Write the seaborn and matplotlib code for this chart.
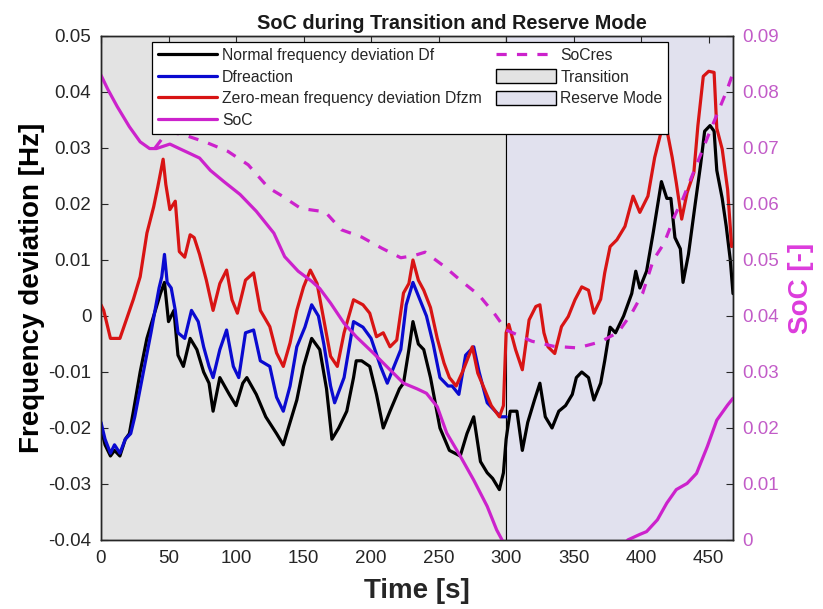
import matplotlib
matplotlib.use("Agg")
import matplotlib.pyplot as plt
from matplotlib.lines import Line2D
from matplotlib.patches import Patch
import pandas as pd
import seaborn as sns

# ---- data ---------------------------------------------------------------
T_DF = [0, 3, 7, 10, 14, 18, 21, 24, 29, 34,
        39, 44, 47, 50, 54, 57, 61, 66, 71, 76,
        80, 83, 88, 95, 100, 105, 108, 115, 122, 130,
        135, 140, 145, 150, 156, 162, 167, 171, 176, 182,
        187, 189, 193, 199, 204, 209, 214, 221, 224, 228,
        231, 235, 239, 244, 251, 258, 266, 271, 276, 281,
        286, 290, 295, 298, 300, 303, 308, 312, 316, 321,
        325, 329, 334, 339, 344, 349, 352, 356, 361, 365,
        370, 373, 377, 381, 387, 393, 396, 399, 404, 409,
        413, 415, 419, 422, 425, 429, 431, 435, 440, 444,
        447, 451, 454, 456, 460, 463, 466, 468]
DF = [-0.020, -0.023, -0.025, -0.024, -0.025, -0.022, -0.021, -0.017, -0.010, -0.004,
      0.000, 0.004, 0.006, -0.001, 0.001, -0.007, -0.009, -0.004, -0.006, -0.010,
      -0.012, -0.017, -0.011, -0.014, -0.016, -0.012, -0.011, -0.014, -0.018, -0.021,
      -0.023, -0.019, -0.015, -0.009, -0.004, -0.006, -0.013, -0.022, -0.020, -0.017,
      -0.011, -0.008, -0.008, -0.009, -0.014, -0.020, -0.017, -0.013, -0.012, -0.006,
      -0.001, -0.005, -0.006, -0.011, -0.020, -0.024, -0.025, -0.021, -0.018, -0.026,
      -0.028, -0.029, -0.031, -0.028, -0.022, -0.017, -0.017, -0.024, -0.019, -0.015,
      -0.012, -0.018, -0.020, -0.017, -0.016, -0.014, -0.011, -0.010, -0.011, -0.015,
      -0.012, -0.008, -0.002, -0.003, 0.000, 0.004, 0.008, 0.005, 0.008, 0.015,
      0.021, 0.024, 0.021, 0.021, 0.014, 0.012, 0.006, 0.011, 0.020, 0.027,
      0.033, 0.034, 0.033, 0.026, 0.021, 0.016, 0.010, 0.004]

T_REACT = [0, 3, 7, 10, 14, 18, 22, 25, 29, 33,
           37, 40, 43, 45, 47, 49, 52, 55, 57, 62,
           67, 72, 76, 80, 83, 88, 93, 98, 102, 107,
           113, 118, 125, 130, 135, 140, 145, 151, 156, 161,
           165, 170, 173, 180, 187, 194, 200, 207, 212, 217,
           222, 226, 231, 236, 241, 246, 251, 257, 260, 265,
           270, 276, 280, 286, 292, 296, 300]
DF_REACT = [-0.019, -0.022, -0.0245, -0.023, -0.0245, -0.022, -0.021, -0.018, -0.013, -0.008,
            -0.003, 0.001, 0.005, 0.007, 0.011, 0.006, 0.005, 0.001, -0.003, -0.004,
            0.001, -0.001, -0.0055, -0.009, -0.011, -0.006, -0.0025, -0.009, -0.011, -0.003,
            -0.0025, -0.008, -0.009, -0.0145, -0.017, -0.0125, -0.0055, -0.002, 0.002, 0.000,
            -0.005, -0.0125, -0.0155, -0.011, -0.001, -0.002, -0.004, -0.009, -0.012, -0.009,
            -0.006, 0.002, 0.006, 0.003, 0.000, -0.005, -0.011, -0.0125, -0.0125, -0.014,
            -0.007, -0.0055, -0.010, -0.0155, -0.017, -0.018, -0.018]

T_ZM = [0, 2, 7, 14, 19, 24, 29, 34, 39, 42,
        46, 48, 51, 55, 58, 62, 66, 69, 73, 78,
        83, 88, 93, 97, 101, 107, 113, 118, 125, 130,
        135, 140, 145, 150, 155, 160, 165, 170, 175, 180,
        187, 194, 199, 204, 209, 214, 219, 224, 228, 231,
        235, 239, 244, 249, 254, 258, 263, 268, 275, 279,
        283, 289, 295, 298, 300, 302, 307, 312, 317, 322,
        325, 328, 331, 336, 341, 346, 351, 356, 361, 365,
        370, 373, 377, 382, 388, 394, 399, 405, 410, 415,
        419, 423, 426, 430, 434, 439, 442, 446, 450, 454,
        456, 460, 464, 467]
DF_ZM = [0.002, 0.001, -0.004, -0.004, -0.0005, 0.003, 0.007, 0.0148, 0.0195, 0.023,
         0.028, 0.0235, 0.019, 0.0205, 0.0115, 0.0105, 0.0145, 0.014, 0.011, 0.0064,
         0.001, 0.0058, 0.0082, 0.0029, 0.0005, 0.0064, 0.0077, 0.001, -0.0019, -0.0066,
         -0.009, -0.0048, 0.001, 0.0052, 0.0082, 0.0058, -0.0007, -0.0072, -0.009, -0.003,
         0.0029, 0.002, 0.0005, -0.0037, -0.003, -0.0055, -0.0043, 0.0041, 0.0058, 0.010,
         0.0064, 0.0046, 0.0015, -0.004, -0.0084, -0.011, -0.0125, -0.0098, -0.0055, -0.0102,
         -0.0125, -0.016, -0.018, -0.016, -0.003, -0.0015, -0.006, -0.0096, -0.0007, 0.0017,
         0.002, -0.003, -0.0055, -0.0067, -0.0019, -0.0001, 0.0029, 0.0052, 0.0046, 0.0005,
         0.003, 0.0077, 0.0124, 0.0136, 0.016, 0.0214, 0.0185, 0.0214, 0.0283, 0.0331,
         0.0333, 0.0283, 0.0238, 0.0173, 0.022, 0.0256, 0.034, 0.0428, 0.0437, 0.0435,
         0.0335, 0.0298, 0.0226, 0.0124]

# SoC while in transition (drains to zero) and while in reserve mode (recharges)
T_SOC_TRANS = [0, 5, 12, 21, 29, 36, 41, 46, 51, 58,
               66, 73, 81, 91, 103, 115, 128, 136, 146, 156,
               162, 170, 180, 189, 202, 214, 224, 234, 241, 249,
               256, 266, 276, 286, 293, 297]
SOC_TRANS = [0.083, 0.0805, 0.0774, 0.0738, 0.0711, 0.0699, 0.0699, 0.0703, 0.0707, 0.0699,
             0.069, 0.0682, 0.066, 0.064, 0.0617, 0.0587, 0.0548, 0.0506, 0.048, 0.0462,
             0.0449, 0.0423, 0.0387, 0.0363, 0.0333, 0.0304, 0.028, 0.027, 0.0262, 0.0238,
             0.0191, 0.015, 0.0107, 0.006, 0.0018, 0.0]
T_SOC_RES = [390, 399, 404, 412, 419, 426, 434, 441, 449, 456, 464, 468]
SOC_RES = [0.0, 0.001, 0.0015, 0.0036, 0.0066, 0.009, 0.0101, 0.0119, 0.0167, 0.0214,
           0.0241, 0.0253]

T_SOCRES = [40, 46, 52, 62, 78, 94, 109, 124, 133, 148,
            166, 178, 193, 208, 222, 232, 240, 254, 267, 280,
            292, 300, 304, 319, 335, 353, 370, 383, 393, 401,
            409, 417, 425, 431, 441, 451, 463, 468]
SOCRES = [0.0700, 0.0719, 0.0728, 0.0723, 0.071, 0.0694, 0.067, 0.0629, 0.0616, 0.0592,
          0.0586, 0.0554, 0.0541, 0.0521, 0.0504, 0.0508, 0.0514, 0.0489, 0.0462, 0.0437,
          0.0402, 0.0375, 0.0371, 0.0355, 0.0346, 0.0343, 0.0354, 0.0371, 0.0405, 0.044,
          0.050, 0.053, 0.058, 0.061, 0.067, 0.073, 0.080, 0.0834]

TRANSITION_END = 300
T_END = 468

LABELS = ["Normal frequency deviation Df", "Dfreaction",
          "Zero-mean frequency deviation Dfzm", "SoC", "SoCres",
          "Transition", "Reserve Mode"]

# ---- styling ----------------------------------------------------------------
BLACK = "#000000"
BLUE = "#0a0ad0"
RED = "#d81414"
MAGENTA = "#cc22cc"
GRAY_BG = "#e3e3e3"
LAV_BG = "#e1e1ee"
AXIS = "#262626"
DASH = (3.2, 3.2)

sns.set_theme(style="white")
plt.rcParams["font.family"] = ["Liberation Sans", "DejaVu Sans"]

fig = plt.figure(figsize=(8.23, 6.09), dpi=100)
ax = fig.add_axes([101 / 823, 69 / 609, 632 / 823, 504 / 609])

ax.axvspan(0, TRANSITION_END, facecolor=GRAY_BG, edgecolor="black", lw=0.8, zorder=0)
ax.axvspan(TRANSITION_END, T_END, facecolor=LAV_BG, edgecolor="black", lw=0.8, zorder=0)

lw = 2.3
sns.lineplot(x=T_DF, y=DF, ax=ax, color=BLACK, lw=lw, estimator=None, sort=False, zorder=3)
sns.lineplot(x=T_REACT, y=DF_REACT, ax=ax, color=BLUE, lw=lw, estimator=None, sort=False, zorder=4)
sns.lineplot(x=T_ZM, y=DF_ZM, ax=ax, color=RED, lw=lw, estimator=None, sort=False, zorder=5)

ax.set_xlim(0, T_END)
ax.set_ylim(-0.04, 0.05)
ax.set_xticks(range(0, 451, 50))
ax.set_yticks([-0.04, -0.03, -0.02, -0.01, 0, 0.01, 0.02, 0.03, 0.04, 0.05])
ax.set_yticklabels(["-0.04", "-0.03", "-0.02", "-0.01", "0", "0.01", "0.02", "0.03", "0.04", "0.05"])
ax.tick_params(axis="both", direction="in", length=5, width=0.8, colors=AXIS,
               labelsize=13.5, pad=7)
ax.tick_params(axis="x", top=True)
ax.set_xlabel("Time [s]", fontsize=20, fontweight="bold", color=AXIS, labelpad=8)
ax.set_ylabel("Frequency deviation [Hz]", fontsize=20, fontweight="bold", color="black", labelpad=2)
ax.set_title("SoC during Transition and Reserve Mode", fontsize=14.3, fontweight="bold",
             color="#1a1a1a", pad=5, x=0.555)

ax2 = ax.twinx()
sns.lineplot(x=T_SOC_TRANS, y=SOC_TRANS, ax=ax2, color=MAGENTA, lw=lw, estimator=None, sort=False)
sns.lineplot(x=T_SOC_RES, y=SOC_RES, ax=ax2, color=MAGENTA, lw=lw, estimator=None, sort=False)
sns.lineplot(x=T_SOCRES, y=SOCRES, ax=ax2, color=MAGENTA, lw=lw, estimator=None, sort=False)
ax2.lines[-1].set_dashes(DASH)
ax2.set_ylim(0, 0.09)
ax2.set_yticks([0, 0.01, 0.02, 0.03, 0.04, 0.05, 0.06, 0.07, 0.08, 0.09])
ax2.set_yticklabels(["0", "0.01", "0.02", "0.03", "0.04", "0.05", "0.06", "0.07", "0.08", "0.09"])
ax2.tick_params(axis="y", direction="in", length=5, width=0.8, colors=AXIS,
                labelcolor="#c25cc8", labelsize=13.5, pad=7)
ax2.set_ylabel("SoC [-]", fontsize=20, fontweight="bold", color="#dc3cdc", labelpad=6)

for a in (ax, ax2):
    for spine in a.spines.values():
        spine.set_color(AXIS)
        spine.set_linewidth(1.0)

handles = [
    Line2D([], [], color=BLACK, lw=lw),
    Line2D([], [], color=BLUE, lw=lw),
    Line2D([], [], color=RED, lw=lw),
    Line2D([], [], color=MAGENTA, lw=lw),
    Line2D([], [], color=MAGENTA, lw=lw, dashes=DASH),
    Patch(facecolor=GRAY_BG, edgecolor="black", lw=1),
    Patch(facecolor=LAV_BG, edgecolor="black", lw=1),
]
leg = ax2.legend(handles, LABELS, ncol=2, loc="upper left",
                 bbox_to_anchor=(0.0807, 0.988), borderaxespad=0,
                 fontsize=11.3, frameon=True, fancybox=False, framealpha=1,
                 edgecolor="black", handlelength=3.8, handleheight=1.0,
                 handletextpad=0.3, columnspacing=0.9, labelspacing=0.4,
                 borderpad=0.36)
leg.get_frame().set_linewidth(0.9)
leg.set_zorder(10)

fig.savefig("out.png", dpi=100)
